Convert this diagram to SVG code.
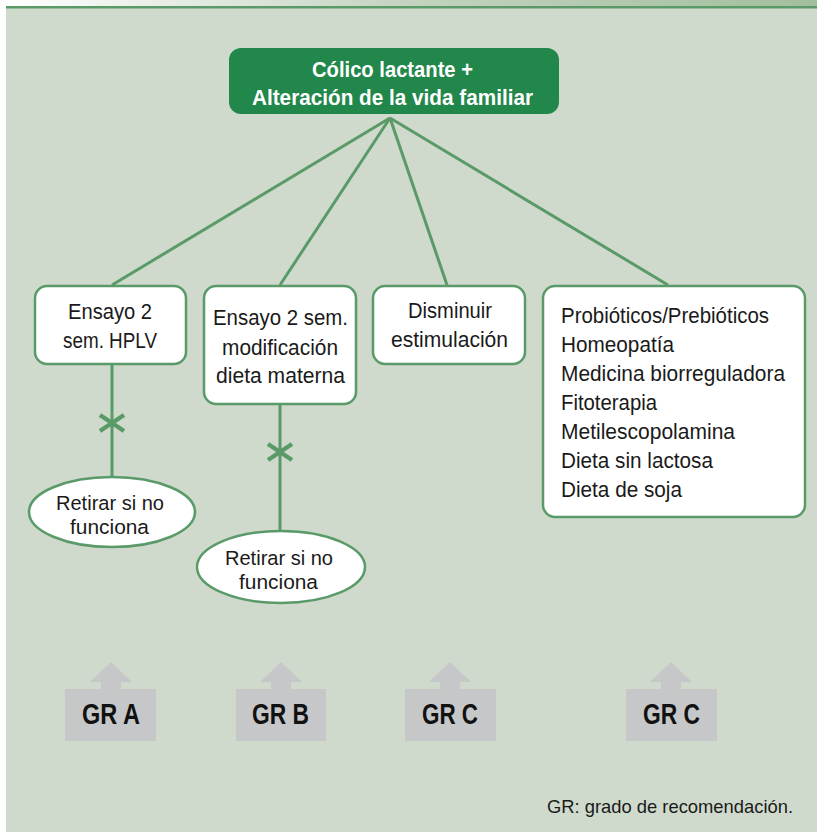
<svg xmlns="http://www.w3.org/2000/svg" width="817" height="832" viewBox="0 0 817 832">
  <defs>
    <linearGradient id="topbar" x1="0" y1="0" x2="1" y2="0">
      <stop offset="0" stop-color="#ffffff"/>
      <stop offset="0.5" stop-color="#c3d3bf"/>
      <stop offset="1" stop-color="#a2bf9d"/>
    </linearGradient>
    <style>
      .bg { fill: #cfdacc; }
      .box { fill: #ffffff; stroke: #5a9a68; stroke-width: 2.5; }
      .edge { stroke: #5a9a68; stroke-width: 3; fill: none; }
      .cross { stroke: #5a9a68; stroke-width: 4.5; fill: none; }
      .txt { font-family: "Liberation Sans", Arial, sans-serif; font-size: 22px; fill: #1a1a1a; }
      .small { font-size: 20.5px; }
      .mid { text-anchor: middle; }
      .title { font-family: "Liberation Sans", Arial, sans-serif; font-size: 22px; font-weight: bold; fill: #ffffff; text-anchor: middle; }
      .gr { fill: #c6c7c9; }
      .grtxt { font-family: "Liberation Sans", Arial, sans-serif; font-size: 29px; font-weight: bold; fill: #111111; text-anchor: middle; }
      .note { font-family: "Liberation Sans", Arial, sans-serif; font-size: 19px; fill: #1a1a1a; }
    </style>
  </defs>

  <!-- page background -->
  <rect x="0" y="0" width="817" height="832" fill="#ffffff"/>
  <rect class="bg" x="6" y="0" width="811" height="832"/>
  <rect x="6" y="0" width="811" height="6" fill="url(#topbar)"/>
  <rect x="6" y="6" width="811" height="2.5" fill="#5a9a68"/>

  <!-- connectors -->
  <g id="connectors">
    <line class="edge" x1="390" y1="118" x2="112" y2="285"/>
    <line class="edge" x1="390" y1="118" x2="280" y2="285"/>
    <line class="edge" x1="390" y1="118" x2="447" y2="285"/>
    <line class="edge" x1="390" y1="118" x2="668" y2="285"/>
    <line class="edge" x1="112" y1="364" x2="112" y2="478"/>
    <line class="edge" x1="280" y1="404" x2="280" y2="532"/>
    <path class="cross" d="M100 415 L124 431 M100 431 L124 415"/>
    <path class="cross" d="M268 444 L292 460 M268 460 L292 444"/>
  </g>

  <g id="root">
    <rect x="229" y="48" width="330" height="66" rx="12" fill="#21874a"/>
    <text class="title" x="392.5" y="77" textLength="161" lengthAdjust="spacingAndGlyphs">Cólico lactante +</text>
    <text class="title" x="392.5" y="105" textLength="281" lengthAdjust="spacingAndGlyphs">Alteración de la vida familiar</text>
  </g>

  <g id="hplv">
    <rect class="box" x="35" y="286" width="151" height="78" rx="12"/>
    <text class="txt mid" x="110" y="319" textLength="84" lengthAdjust="spacingAndGlyphs">Ensayo 2</text>
    <text class="txt mid" x="110" y="348" textLength="94" lengthAdjust="spacingAndGlyphs">sem. HPLV</text>
  </g>

  <g id="dieta-materna">
    <rect class="box" x="204" y="286" width="152" height="118" rx="12"/>
    <text class="txt mid" x="280.5" y="325" textLength="135" lengthAdjust="spacingAndGlyphs">Ensayo 2 sem.</text>
    <text class="txt mid" x="280" y="355" textLength="116" lengthAdjust="spacingAndGlyphs">modificación</text>
    <text class="txt mid" x="280.5" y="383" textLength="129" lengthAdjust="spacingAndGlyphs">dieta materna</text>
  </g>

  <g id="estimulacion">
    <rect class="box" x="373" y="286" width="152" height="78" rx="12"/>
    <text class="txt mid" x="450" y="318" textLength="84" lengthAdjust="spacingAndGlyphs">Disminuir</text>
    <text class="txt mid" x="449.5" y="347" textLength="117" lengthAdjust="spacingAndGlyphs">estimulación</text>
  </g>

  <g id="otros">
    <rect class="box" x="543" y="286" width="262" height="231" rx="12"/>
    <text class="txt" x="561" y="323" textLength="208" lengthAdjust="spacingAndGlyphs">Probióticos/Prebióticos</text>
    <text class="txt" x="561" y="352" textLength="113" lengthAdjust="spacingAndGlyphs">Homeopatía</text>
    <text class="txt" x="561" y="381" textLength="224" lengthAdjust="spacingAndGlyphs">Medicina biorreguladora</text>
    <text class="txt" x="561" y="410" textLength="96" lengthAdjust="spacingAndGlyphs">Fitoterapia</text>
    <text class="txt" x="561" y="439" textLength="174" lengthAdjust="spacingAndGlyphs">Metilescopolamina</text>
    <text class="txt" x="561" y="468" textLength="152" lengthAdjust="spacingAndGlyphs">Dieta sin lactosa</text>
    <text class="txt" x="561" y="497" textLength="121" lengthAdjust="spacingAndGlyphs">Dieta de soja</text>
  </g>

  <g id="retirar-a">
    <ellipse class="box" cx="112" cy="512" rx="83" ry="35"/>
    <text class="txt small mid" x="110" y="510" textLength="108" lengthAdjust="spacingAndGlyphs">Retirar si no</text>
    <text class="txt small mid" x="109.5" y="534" textLength="79" lengthAdjust="spacingAndGlyphs">funciona</text>
  </g>

  <g id="retirar-b">
    <ellipse class="box" cx="281" cy="567" rx="84" ry="36"/>
    <text class="txt small mid" x="279" y="565" textLength="108" lengthAdjust="spacingAndGlyphs">Retirar si no</text>
    <text class="txt small mid" x="278.5" y="589" textLength="79" lengthAdjust="spacingAndGlyphs">funciona</text>
  </g>

  <!-- recommendation grades -->
  <g id="gr-a">
    <path class="gr" d="M111 662 L132 682 L121 682 L121 689 L156 689 L156 741 L65 741 L65 689 L101 689 L101 682 L90 682 Z"/>
    <text class="grtxt" x="111" y="724" textLength="58" lengthAdjust="spacingAndGlyphs">GR A</text>
  </g>
  <g id="gr-b">
    <path class="gr" d="M281 662 L302 682 L291 682 L291 689 L326 689 L326 741 L236 741 L236 689 L271 689 L271 682 L260 682 Z"/>
    <text class="grtxt" x="280.5" y="724" textLength="57" lengthAdjust="spacingAndGlyphs">GR B</text>
  </g>
  <g id="gr-c1">
    <path class="gr" d="M450 662 L471 682 L460 682 L460 689 L496 689 L496 741 L405 741 L405 689 L440 689 L440 682 L429 682 Z"/>
    <text class="grtxt" x="450" y="724" textLength="56" lengthAdjust="spacingAndGlyphs">GR C</text>
  </g>
  <g id="gr-c2">
    <path class="gr" d="M671 662 L692 682 L681 682 L681 689 L717 689 L717 741 L626 741 L626 689 L661 689 L661 682 L650 682 Z"/>
    <text class="grtxt" x="671.5" y="724" textLength="57" lengthAdjust="spacingAndGlyphs">GR C</text>
  </g>

  <text class="note" x="547" y="813" textLength="246" lengthAdjust="spacingAndGlyphs">GR: grado de recomendación.</text>
</svg>
